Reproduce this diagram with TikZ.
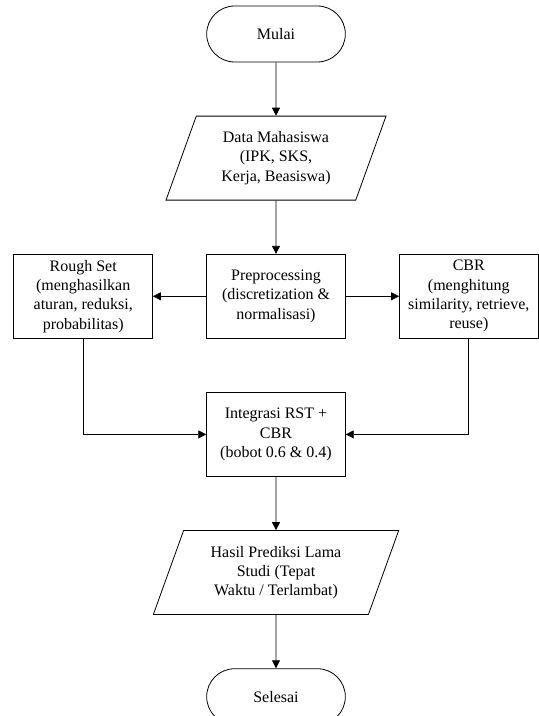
\documentclass[tikz,border=0pt]{standalone}
\usepackage{fontspec}
\setmainfont{Liberation Serif}
\usetikzlibrary{shapes,arrows,positioning,calc,arrows.meta}

\begin{document}
\begin{tikzpicture}[node distance=40pt, line width=0.6pt, >={Triangle[length=6pt,width=6pt]},
    every node/.style={font=\fontsize{12pt}{14.5pt}\selectfont},
    terminal/.style={draw, rectangle, rounded corners=21pt, minimum width=104pt, minimum height=42pt},
    box/.style={draw, rectangle, minimum width=104pt, minimum height=63pt, align=center},
    data/.style={draw, trapezium, trapezium left angle=64, trapezium right angle=116, trapezium stretches body, minimum height=63pt, align=center}]
    \useasboundingbox (0,0) rectangle (403.5pt,-537pt);
    \node [terminal] (mulai) at (207pt,-25.5pt) {Mulai};
    \node [data, minimum width=165pt, below=of mulai] (data) {Data Mahasiswa\\(IPK, SKS,\\Kerja, Beasiswa)};
    \node [box, below=of data] (prep) {Preprocessing\\(discretization \&\\normalisasi)};
    \node [box, left=of prep] (rough) {Rough Set\\(menghasilkan\\aturan, reduksi,\\probabilitas)};
    \node [box, right=of prep] (cbr) {CBR\\(menghitung\\similarity, retrieve,\\reuse)};
    \node [box, below=of prep] (integrasi) {Integrasi RST +\\CBR\\(bobot 0.6 \& 0.4)};
    \node [data, minimum width=184pt, below=of integrasi] (hasil) {Hasil Prediksi Lama\\Studi (Tepat\\Waktu / Terlambat)};
    \node [terminal, below=of hasil] (selesai) {Selesai};

    \draw [->] (mulai) -- (data);
    \draw [->] (data) -- (prep);
    \draw [->] (prep) -- (rough);
    \draw [->] (prep) -- (cbr);
    \draw [->] (rough.south) |- (integrasi.west);
    \draw [->] (cbr.south) |- (integrasi.east);
    \draw [->] (integrasi) -- (hasil);
    \draw [->] (hasil) -- (selesai);
\end{tikzpicture}
\end{document}
